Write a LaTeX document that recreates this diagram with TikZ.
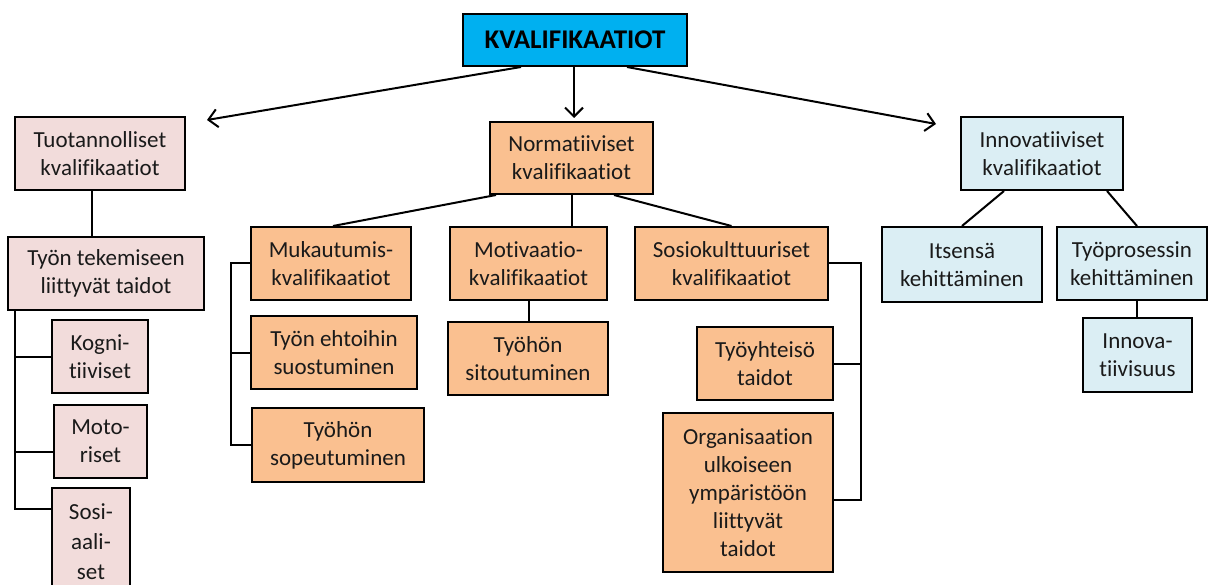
\documentclass[tikz,border=0pt]{standalone}
\usepackage{fontspec}
\setmainfont{Carlito}[Ligatures=NoCommon]
\usetikzlibrary{arrows.meta}
\definecolor{pinkbox}{HTML}{F2DCDB}
\definecolor{orangebox}{HTML}{FAC090}
\definecolor{bluebox}{HTML}{DBEEF4}
\definecolor{topblue}{HTML}{00B0F0}
\definecolor{txt}{HTML}{1A1A1A}
\tikzset{
  box/.style={draw=black, line width=2pt, align=center, inner sep=2pt,
    font=\fontsize{23}{28}\selectfont, text=txt},
  pinkb/.style={box, fill=pinkbox},
  orangeb/.style={box, fill=orangebox},
  blueb/.style={box, fill=bluebox},
  conn/.style={draw=black, line width=2pt},
  arr/.style={conn, -{Straight Barb[length=9pt,width=18pt,line width=2pt]}},
}
\begin{document}
\begin{tikzpicture}[x=1pt,y=-1pt]
\fill[white] (0,0) rectangle (1210,585);
\useasboundingbox (0,0) rectangle (1210,585);
% top
\node[box, fill=topblue, minimum width=224pt, minimum height=52pt,
  font=\fontsize{27}{30}\selectfont\bfseries, text=black] (top) at (575,40) {KVALIFIKAATIOT};
% left group
\node[pinkb, minimum width=170pt, minimum height=73pt] (tuot) at (100,153.5) {Tuotannolliset\\kvalifikaatiot};
\node[pinkb, minimum width=196pt, minimum height=73pt] (tyon) at (106,273.5) {Työn tekemiseen\\liittyvät taidot};
\node[pinkb, minimum width=96pt, minimum height=73pt] (kogni) at (100,356.5) {Kogni-\\tiiviset};
\node[pinkb, minimum width=93pt, minimum height=73pt] (moto) at (100.5,441.5) {Moto-\\riset};
\node[pinkb, minimum width=78pt, minimum height=108pt, font=\fontsize{23}{30}\selectfont] (sosi) at (91,542) {Sosi-\\aali-\\set};
% middle group
\node[orangeb, minimum width=163pt, minimum height=72pt] (norm) at (571.5,158) {Normatiiviset\\kvalifikaatiot};
\node[orangeb, minimum width=160pt, minimum height=73pt] (muk) at (331,263.5) {Mukautumis-\\kvalifikaatiot};
\node[orangeb, minimum width=166pt, minimum height=73pt] (ehto) at (334,352.5) {Työn ehtoihin\\suostuminen};
\node[orangeb, minimum width=172pt, minimum height=74pt] (sopeu) at (338,445) {Työhön\\sopeutuminen};
\node[orangeb, minimum width=157pt, minimum height=73pt] (motiv) at (528.5,263.5) {Motivaatio-\\kvalifikaatiot};
\node[orangeb, minimum width=160pt, minimum height=73pt] (sitou) at (528,358.5) {Työhön\\sitoutuminen};
\node[orangeb, minimum width=193pt, minimum height=73pt] (sosio) at (731.5,263.5) {Sosiokulttuuriset\\kvalifikaatiot};
\node[orangeb, minimum width=136pt, minimum height=73pt] (tyoy) at (765,363.5) {Työyhteisö\\taidot};
\node[orangeb, minimum width=170pt, minimum height=159pt] (org) at (748,492.5) {Organisaation\\ulkoiseen\\ympäristöön\\liittyvät\\taidot};
% right group
\node[blueb, minimum width=162pt, minimum height=73pt] (innov) at (1042,153.5) {Innovatiiviset\\kvalifikaatiot};
\node[blueb, minimum width=160pt, minimum height=75pt] (itse) at (962,264.5) {Itsensä\\kehittäminen};
\node[blueb, minimum width=150pt, minimum height=73pt] (typro) at (1132,263.5) {Työprosessin\\kehittäminen};
\node[blueb, minimum width=109pt, minimum height=74pt] (innova) at (1137.5,355) {Innova-\\tiivisuus};
% arrows from top
\coordinate (a1) at (207,120);
\coordinate (a2) at (574,118);
\coordinate (a3) at (936,124);
\draw[arr] ([xshift=-54pt]top.south) -- (a1);
\draw[arr] ([xshift=-1pt]top.south) -- (a2);
\draw[arr] ([xshift=52pt]top.south) -- (a3);
% left connectors
\draw[conn] ([xshift=-8pt]tuot.south) -- ([xshift=-8pt]tuot.south |- tyon.north);
\coordinate (ltop) at ([xshift=8pt]tyon.south west);
\draw[conn] (ltop) |- ([yshift=-22pt]sosi.north west);
\draw[conn] (kogni.west) -- (kogni.west -| ltop);
\draw[conn] ([yshift=-10pt]moto.west) -- ([yshift=-10pt]moto.west -| ltop);
% middle connectors
\draw[conn] ([xshift=7pt]norm.south west) -- ([xshift=2pt]muk.north);
\draw[conn] ([xshift=0.5pt]norm.south) -- ([xshift=0.5pt]norm.south |- motiv.north);
\draw[conn] ([xshift=-40pt]norm.south east) -- (sosio.north);
\draw[conn] (motiv.south) -- (motiv.south |- sitou.north);
\coordinate (mb) at ([xshift=-19pt]muk.west);
\draw[conn] (muk.west) -- (mb) |- (sopeu.west);
\draw[conn] (ehto.west) -- (ehto.west -| mb);
\coordinate (sb) at ([xshift=32pt]sosio.east);
\draw[conn] (sosio.east) -- (sb) |- ([yshift=-7.5pt]org.east);
\draw[conn] (tyoy.east) -- (tyoy.east -| sb);
% right connectors
\draw[conn] ([xshift=-38pt]innov.south) -- (itse.north);
\draw[conn] ([xshift=65pt]innov.south) -- ([xshift=5pt]typro.north);
\draw[conn] ([xshift=5pt]typro.south) -- ([xshift=5pt]typro.south |- innova.north);
\end{tikzpicture}
\end{document}
